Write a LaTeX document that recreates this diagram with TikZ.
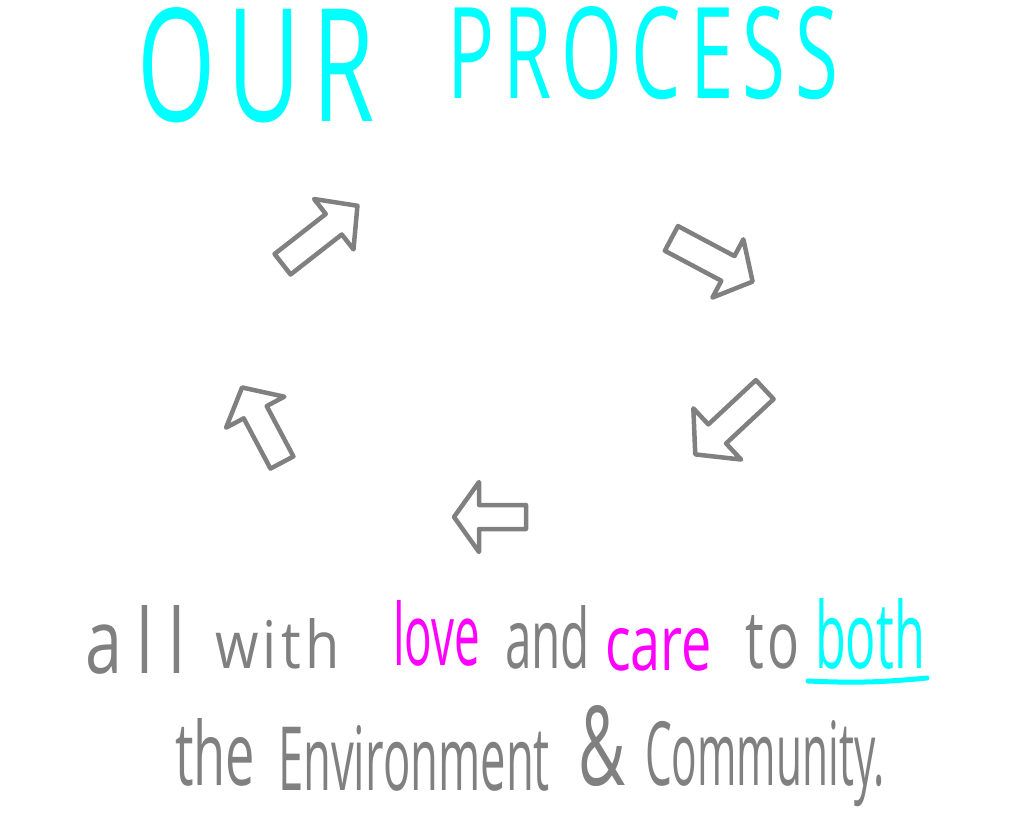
\documentclass[tikz,border=0pt]{standalone}
\usepackage{fontspec}
\setmainfont{Open Sans}
\newfontfamily\titlefont{Open Sans}[LetterSpace=12]
\newfontfamily\handfont{Open Sans}
\usepackage{graphicx}
\definecolor{pgray}{RGB}{128,128,128}
\definecolor{pcyan}{RGB}{0,255,255}
\definecolor{pmag}{RGB}{255,0,255}
\tikzset{
  word/.style={inner sep=0pt, outer sep=0pt, anchor=base west, font=\handfont},
  ttl/.style={inner sep=0pt, outer sep=0pt, anchor=base west, font=\titlefont, text=pcyan},
  arrowline/.style={draw=pgray, line width=4.5pt, line join=round, line cap=round},
  pics/barrow/.style n args={4}{code={
    \draw[arrowline] ({-#1/2},{-#2}) -- ({#1/2-#4},{-#2}) -- ({#1/2-#4},{-#3}) -- ({#1/2},0)
      -- ({#1/2-#4},{#3}) -- ({#1/2-#4},{#2}) -- ({-#1/2},{#2}) -- cycle;
  }}
}
\begin{document}
\begin{tikzpicture}[x=1pt,y=-1pt]
\useasboundingbox (0,0) rectangle (1033,818);
% title
\node[ttl] (t1) at (137,122) {\resizebox{238pt}{114pt}{OUR}};
\node[ttl] (t2) at (447,99) {\resizebox{391pt}{92pt}{PROCESS}};
% cycle arrows
\pic (a1) at (320,235) [rotate=38] {barrow={95}{13}{32}{30}};
\pic (a2) at (712,260) [rotate=-28] {barrow={92}{14}{33}{28}};
\pic (a3) at (730,422) [rotate=223] {barrow={95}{13}{35}{30}};
\pic (a4) at (490,517) [rotate=180] {barrow={72}{12}{35}{25}};
\pic (a5) at (262,425) [rotate=118] {barrow={85}{13}{33}{28}};
% line 1
\node[word, text=pgray] (w1) at (85,673) {\resizebox{100pt}{68pt}{\addfontfeature{LetterSpace=22}all}};
\node[word, text=pgray] (w2) at (215,668) {\resizebox{125pt}{50pt}{\addfontfeature{LetterSpace=8}with}};
\node[word, text=pmag]  (w3) at (393,665) {\resizebox{87pt}{65pt}{love}};
\node[word, text=pgray] (w4) at (505,668) {\resizebox{85pt}{63pt}{and}};
\node[word, text=pmag]  (w5) at (605,670) {\resizebox{107pt}{42pt}{care}};
\node[word, text=pgray] (w6) at (745,668) {\resizebox{55pt}{53pt}{\addfontfeature{LetterSpace=8}to}};
\node[word, text=pcyan] (w7) at (815,668) {\resizebox{110pt}{70pt}{both}};
\draw[pcyan, line width=5pt, line cap=round] (808,681) to[bend right=4] (927,678);
% line 2
\node[word, text=pgray] (v1) at (175,785) {\resizebox{80pt}{67pt}{the}};
\node[word, text=pgray] (v2) at (278,790) {\resizebox{272pt}{65pt}{Environment}};
\node[word, text=pgray] (v3) at (578,785) {\resizebox{47pt}{80pt}{\&}};
\node[word, text=pgray] (v4) at (645,785) {\resizebox{240pt}{65pt}{Community.}};
\end{tikzpicture}
\end{document}
